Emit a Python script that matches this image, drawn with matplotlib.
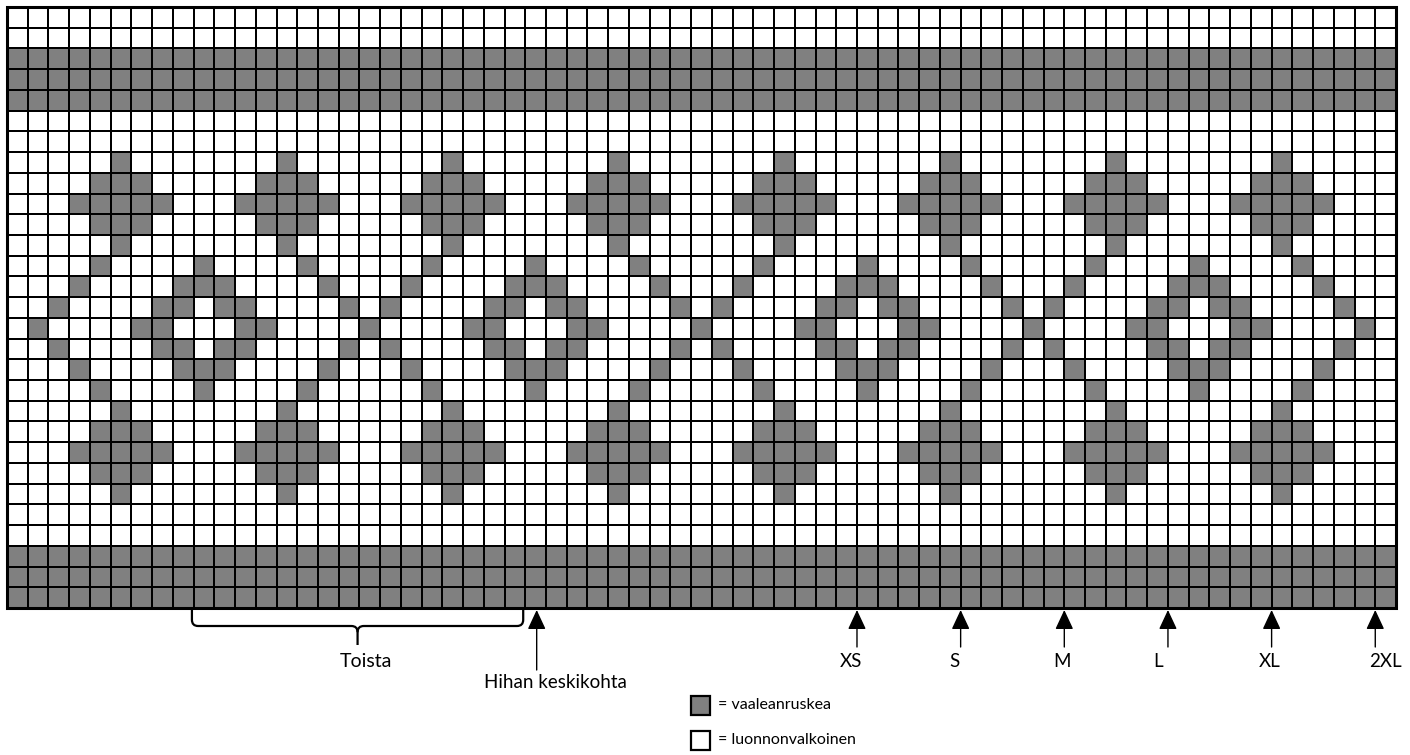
import numpy as np
import matplotlib
matplotlib.use("Agg")
import matplotlib.pyplot as plt
from matplotlib.colors import ListedColormap
from matplotlib.patches import Rectangle
from matplotlib.path import Path
from matplotlib.patches import PathPatch

plt.rcParams['font.family'] = ['Lato', 'DejaVu Sans']

# ---------------- data ----------------
n_cols = 67
n_rows = 29

band_rows = [2, 3, 4, 26, 27, 28]

star_tip = [5, 13, 21, 29, 37, 45, 53, 61]
star_mid = [4, 5, 6, 12, 13, 14, 20, 21, 22, 28, 29, 30, 36, 37, 38,
            44, 45, 46, 52, 53, 54, 60, 61, 62]
star_wide = [3, 4, 5, 6, 7, 11, 12, 13, 14, 15, 19, 20, 21, 22, 23,
             27, 28, 29, 30, 31, 35, 36, 37, 38, 39, 43, 44, 45, 46, 47,
             51, 52, 53, 54, 55, 59, 60, 61, 62, 63]
diag_a = [4, 9, 14, 20, 25, 30, 36, 41, 46, 52, 57, 62]
diag_b = [3, 8, 9, 10, 15, 19, 24, 25, 26, 31, 35, 40, 41, 42, 47,
          51, 56, 57, 58, 63]
diag_c = [2, 7, 8, 10, 11, 16, 18, 23, 24, 26, 27, 32, 34, 39, 40, 42, 43,
          48, 50, 55, 56, 58, 59, 64]
diag_d = [1, 6, 7, 11, 12, 17, 22, 23, 27, 28, 33, 38, 39, 43, 44, 49,
          54, 55, 59, 60, 65]

row_patterns = {
    7: star_tip, 8: star_mid, 9: star_wide, 10: star_mid, 11: star_tip,
    12: diag_a, 13: diag_b, 14: diag_c, 15: diag_d, 16: diag_c, 17: diag_b,
    18: diag_a,
    19: star_tip, 20: star_mid, 21: star_wide, 22: star_mid, 23: star_tip,
}

size_labels = ["XS", "S", "M", "L", "XL", "2XL"]
size_cols = [41, 46, 51, 56, 61, 66]
size_label_x = [40.7, 45.7, 50.9, 55.5, 60.9, 66.5]

repeat_start = 8.92
repeat_end = 24.9
center_col = 25.55

legend_labels = ["= vaaleanruskea", "= luonnonvalkoinen"]
gray = "#808080"

# ---------------- build grid ----------------
grid = np.zeros((n_rows, n_cols))
for r in band_rows:
    grid[r, :] = 1
for r, cols in row_patterns.items():
    grid[r, cols] = 1

# ---------------- figure ----------------
W, H, DPI = 1410, 755, 100
cw = 1389 / n_cols
ch = 601 / n_rows
x0, y0 = 7, 7

fig = plt.figure(figsize=(W / DPI, H / DPI), dpi=DPI)
ax = fig.add_axes([0, 0, 1, 1])
ax.set_xlim(-x0 / cw, (W - x0) / cw)
ax.set_ylim((H - y0) / ch, -y0 / ch)
ax.axis("off")

ax.pcolormesh(np.arange(n_cols + 1), np.arange(n_rows + 1), grid,
              cmap=ListedColormap(["white", gray]), vmin=0, vmax=1,
              edgecolors="black", linewidth=1.3)
ax.add_patch(Rectangle((0, 0), n_cols, n_rows, fill=False,
                       edgecolor="black", linewidth=2.2, zorder=5))

def v(py):
    return (py - y0) / ch

def u(px):
    return (px - x0) / cw

# brace "Toista"
top = v(610)
mid = v(626)
tip = v(645)
cx = (repeat_start + repeat_end) / 2
r = 0.3
verts = [
    (repeat_start, top), (repeat_start, mid - r), (repeat_start, mid),
    (repeat_start + r, mid),
    (cx - r, mid), (cx, mid), (cx, mid + r), (cx, tip),
]
codes = [Path.MOVETO, Path.LINETO, Path.CURVE3, Path.CURVE3,
         Path.LINETO, Path.CURVE3, Path.CURVE3, Path.LINETO]
verts2 = [
    (repeat_end, top), (repeat_end, mid - r), (repeat_end, mid),
    (repeat_end - r, mid),
    (cx + r, mid), (cx, mid), (cx, mid + r),
]
codes2 = [Path.MOVETO, Path.LINETO, Path.CURVE3, Path.CURVE3,
          Path.LINETO, Path.CURVE3, Path.CURVE3]
for vv, cc in ((verts, codes), (verts2, codes2)):
    ax.add_patch(PathPatch(Path(vv, cc), fill=False, edgecolor="black",
                           linewidth=1.6, capstyle="butt"))
ax.text(u(366), v(662), "Toista", ha="center", va="center", fontsize=14)

arrow_style = dict(arrowstyle="-|>,head_length=0.6,head_width=0.28",
                   color="black", lw=1.0, mutation_scale=20,
                   shrinkA=0, shrinkB=0)

# sleeve centre arrow
ax.annotate("", xy=(center_col, v(610)), xytext=(center_col, v(670)),
            arrowprops=arrow_style)
ax.text(u(555), v(683), "Hihan keskikohta", ha="center", va="center",
        fontsize=13.5)

# size arrows
for lab, c, lx in zip(size_labels, size_cols, size_label_x):
    ax.annotate("", xy=(c, v(610)), xytext=(c, v(647)),
                arrowprops=arrow_style)
    ax.text(lx, v(662), lab, ha="center", va="center", fontsize=13.5)

# legend
sq = 19 / cw
for i, (lab, fc) in enumerate(zip(legend_labels, [gray, "white"])):
    py = 696 + i * 35
    ax.add_patch(Rectangle((u(691), v(py)), sq, 19 / ch, facecolor=fc,
                           edgecolor="black", linewidth=1.6))
    ax.text(u(718), v(py + 9.5), lab, ha="left", va="center", fontsize=11.5)

fig.savefig("out.png", dpi=DPI)
